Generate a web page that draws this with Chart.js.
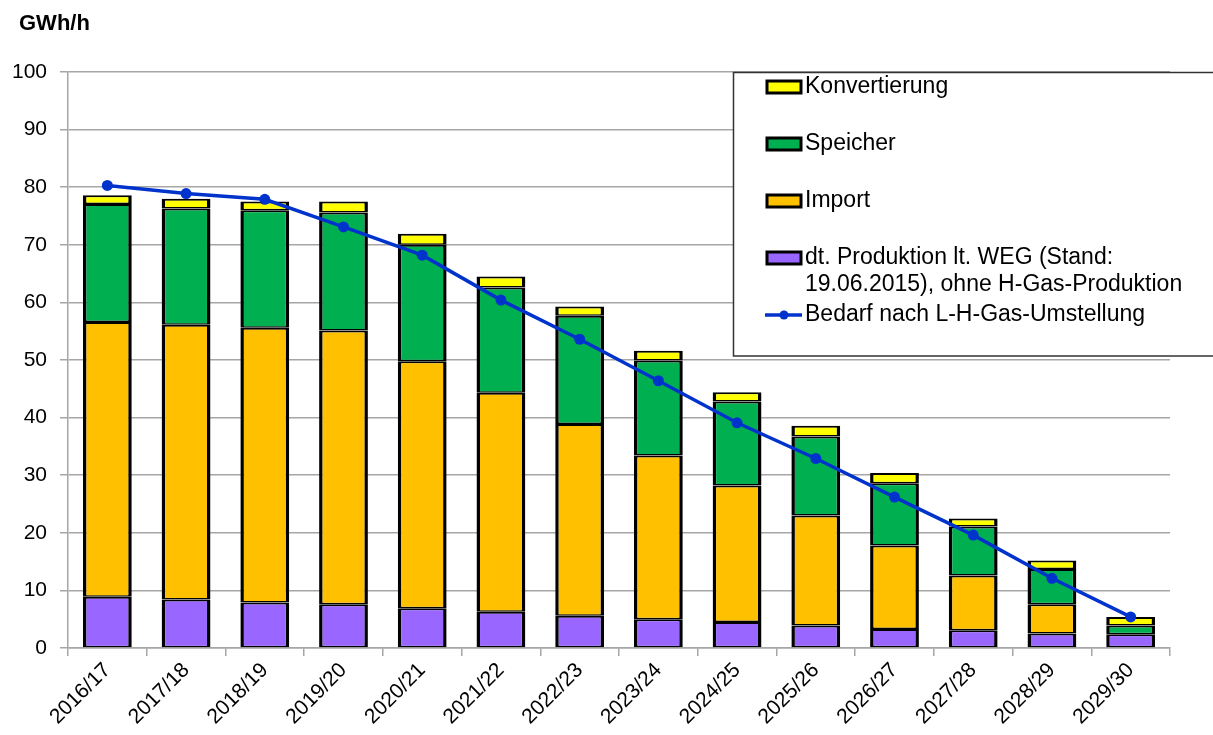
<!DOCTYPE html>
<html>
<head>
<meta charset="utf-8">
<script src="https://cdn.jsdelivr.net/npm/chart.js@4/dist/chart.umd.min.js"></script>
<style>
  html, body { margin: 0; padding: 0; background: #ffffff; }
  canvas { display: block; }
</style>
</head>
<body>
<canvas id="c" width="1213" height="735"></canvas>
<script>
// Gas years on the category axis
const categories = ['2016/17', '2017/18', '2018/19', '2019/20', '2020/21', '2021/22', '2022/23',
                    '2023/24', '2024/25', '2025/26', '2026/27', '2027/28', '2028/29', '2029/30'];

// Stacked supply components (GWh/h), bottom to top
const produktion     = [8.9, 8.4, 7.9, 7.6, 6.9, 6.3, 5.6, 5.0, 4.5, 3.9, 3.3, 3.1, 2.5, 2.4];
const importWerte    = [47.7, 47.7, 47.7, 47.5, 42.9, 38.0, 33.3, 28.4, 23.7, 19.1, 14.5, 9.5, 5.1, 0];
const speicher       = [20.5, 20.2, 20.4, 20.5, 20.2, 18.3, 18.8, 16.5, 14.6, 13.7, 10.8, 8.5, 6.1, 1.5];
const konvertierung  = [1.5, 1.7, 1.5, 1.9, 1.9, 1.9, 1.6, 1.7, 1.6, 1.9, 1.8, 1.4, 1.5, 1.5];

// Demand after the L-/H-gas conversion
const bedarf         = [80.3, 78.9, 77.9, 73.1, 68.2, 60.4, 53.6, 46.4, 39.1, 32.9, 26.2, 19.6, 12.1, 5.4];

// Axis
const yTicks = [0, 10, 20, 30, 40, 50, 60, 70, 80, 90, 100];
const unitLabel = 'GWh/h';

// Legend texts (multi-line where wrapped)
const nameKonvertierung = ['Konvertierung'];
const nameSpeicher      = ['Speicher'];
const nameImport        = ['Import'];
const nameProduktion    = ['dt. Produktion lt. WEG (Stand:', '19.06.2015), ohne H-Gas-Produktion'];
const nameBedarf        = ['Bedarf nach L-H-Gas-Umstellung'];

const FONT = "'Liberation Sans', Arial, sans-serif";
const GRID = '#a6a6a6';
const INK = '#000000';

const barBorder = { top: 2, bottom: 1.5, left: 3.5, right: 3.5 };
function barSet(label, data, color) {
  return {
    type: 'bar', label: label.join(' '), legendLines: label, data,
    backgroundColor: color, borderColor: '#000000', borderWidth: barBorder,
    borderSkipped: false, stack: 'angebot', order: 1,
    categoryPercentage: 1.0, barPercentage: 0.62
  };
}

const datasets = [
  barSet(nameProduktion, produktion, '#9966FF'),
  barSet(nameImport, importWerte, '#FFC000'),
  barSet(nameSpeicher, speicher, '#00B050'),
  barSet(nameKonvertierung, konvertierung, '#FFFF00'),
  {
    type: 'line', label: nameBedarf.join(' '), legendLines: nameBedarf, data: bedarf,
    borderColor: '#0033CC', backgroundColor: '#0033CC', borderWidth: 3.5,
    pointRadius: 5.5, pointHoverRadius: 5.5, pointBorderWidth: 0,
    tension: 0, stack: 'bedarf', order: 0
  }
];

// Boxed legend in the upper right plus the unit caption
const extras = {
  id: 'extras',
  afterDraw(chart) {
    const ctx = chart.ctx;
    ctx.save();
    // unit caption
    ctx.fillStyle = INK;
    ctx.font = 'bold 22px ' + FONT;
    ctx.textBaseline = 'alphabetic';
    ctx.textAlign = 'left';
    ctx.fillText(unitLabel, 19, 30);

    // legend box
    const bx = 733.5, by = 72.5, bw = 500, bh = 283.5;
    ctx.fillStyle = '#ffffff';
    ctx.fillRect(bx, by, bw, bh);
    ctx.strokeStyle = '#333333';
    ctx.lineWidth = 1.5;
    ctx.strokeRect(bx, by, bw, bh);

    const order = [3, 2, 1, 0, 4];
    const rowY = [87, 144, 201, 258, 315];
    const sx = 767, sw = 34, sh = 12, tx = 805;
    ctx.font = '23px ' + FONT;
    ctx.textBaseline = 'middle';
    order.forEach((di, i) => {
      const ds = chart.data.datasets[di];
      const y = rowY[i];
      if (ds.type === 'line') {
        ctx.strokeStyle = ds.borderColor;
        ctx.lineWidth = 3.5;
        ctx.beginPath();
        ctx.moveTo(sx - 2, y);
        ctx.lineTo(sx + sw + 1, y);
        ctx.stroke();
        ctx.fillStyle = ds.borderColor;
        ctx.beginPath();
        ctx.arc(sx + sw / 2, y, 4.5, 0, Math.PI * 2);
        ctx.fill();
      } else {
        ctx.fillStyle = ds.backgroundColor;
        ctx.fillRect(sx, y - sh / 2, sw, sh);
        ctx.strokeStyle = '#000000';
        ctx.lineWidth = 3;
        ctx.strokeRect(sx, y - sh / 2, sw, sh);
      }
      ctx.fillStyle = INK;
      ds.legendLines.forEach((line, k) => {
        ctx.fillText(line, tx, y + k * 27);
      });
    });
    ctx.restore();
  }
};

new Chart(document.getElementById('c'), {
  data: { labels: categories, datasets },
  options: {
    responsive: false,
    devicePixelRatio: 1,
    animation: false,
    layout: { padding: { top: 72, right: 43, left: 0, bottom: 0 } },
    plugins: { legend: { display: false }, tooltip: { enabled: false } },
    scales: {
      x: {
        stacked: true,
        offset: true,
        afterFit(scale) { scale.height = 87; },
        grid: { display: true, drawOnChartArea: false, drawTicks: true, tickLength: 8,
                color: GRID, offset: true, lineWidth: 1.5 },
        border: { display: true, color: GRID, width: 1.5 },
        ticks: { maxRotation: 45, minRotation: 45, padding: 2, color: INK,
                 font: { family: FONT, size: 21 }, autoSkip: false }
      },
      y: {
        stacked: true,
        min: 0, max: 100,
        afterFit(scale) { scale.width = 68; },
        afterBuildTicks(scale) { scale.ticks = yTicks.map(v => ({ value: v })); },
        grid: { color: GRID, lineWidth: 1.5, tickLength: 8, drawTicks: true },
        border: { display: true, color: GRID, width: 1.5 },
        ticks: { padding: 13, color: INK, font: { family: FONT, size: 21 } }
      }
    }
  },
  plugins: [extras]
});
</script>
</body>
</html>
